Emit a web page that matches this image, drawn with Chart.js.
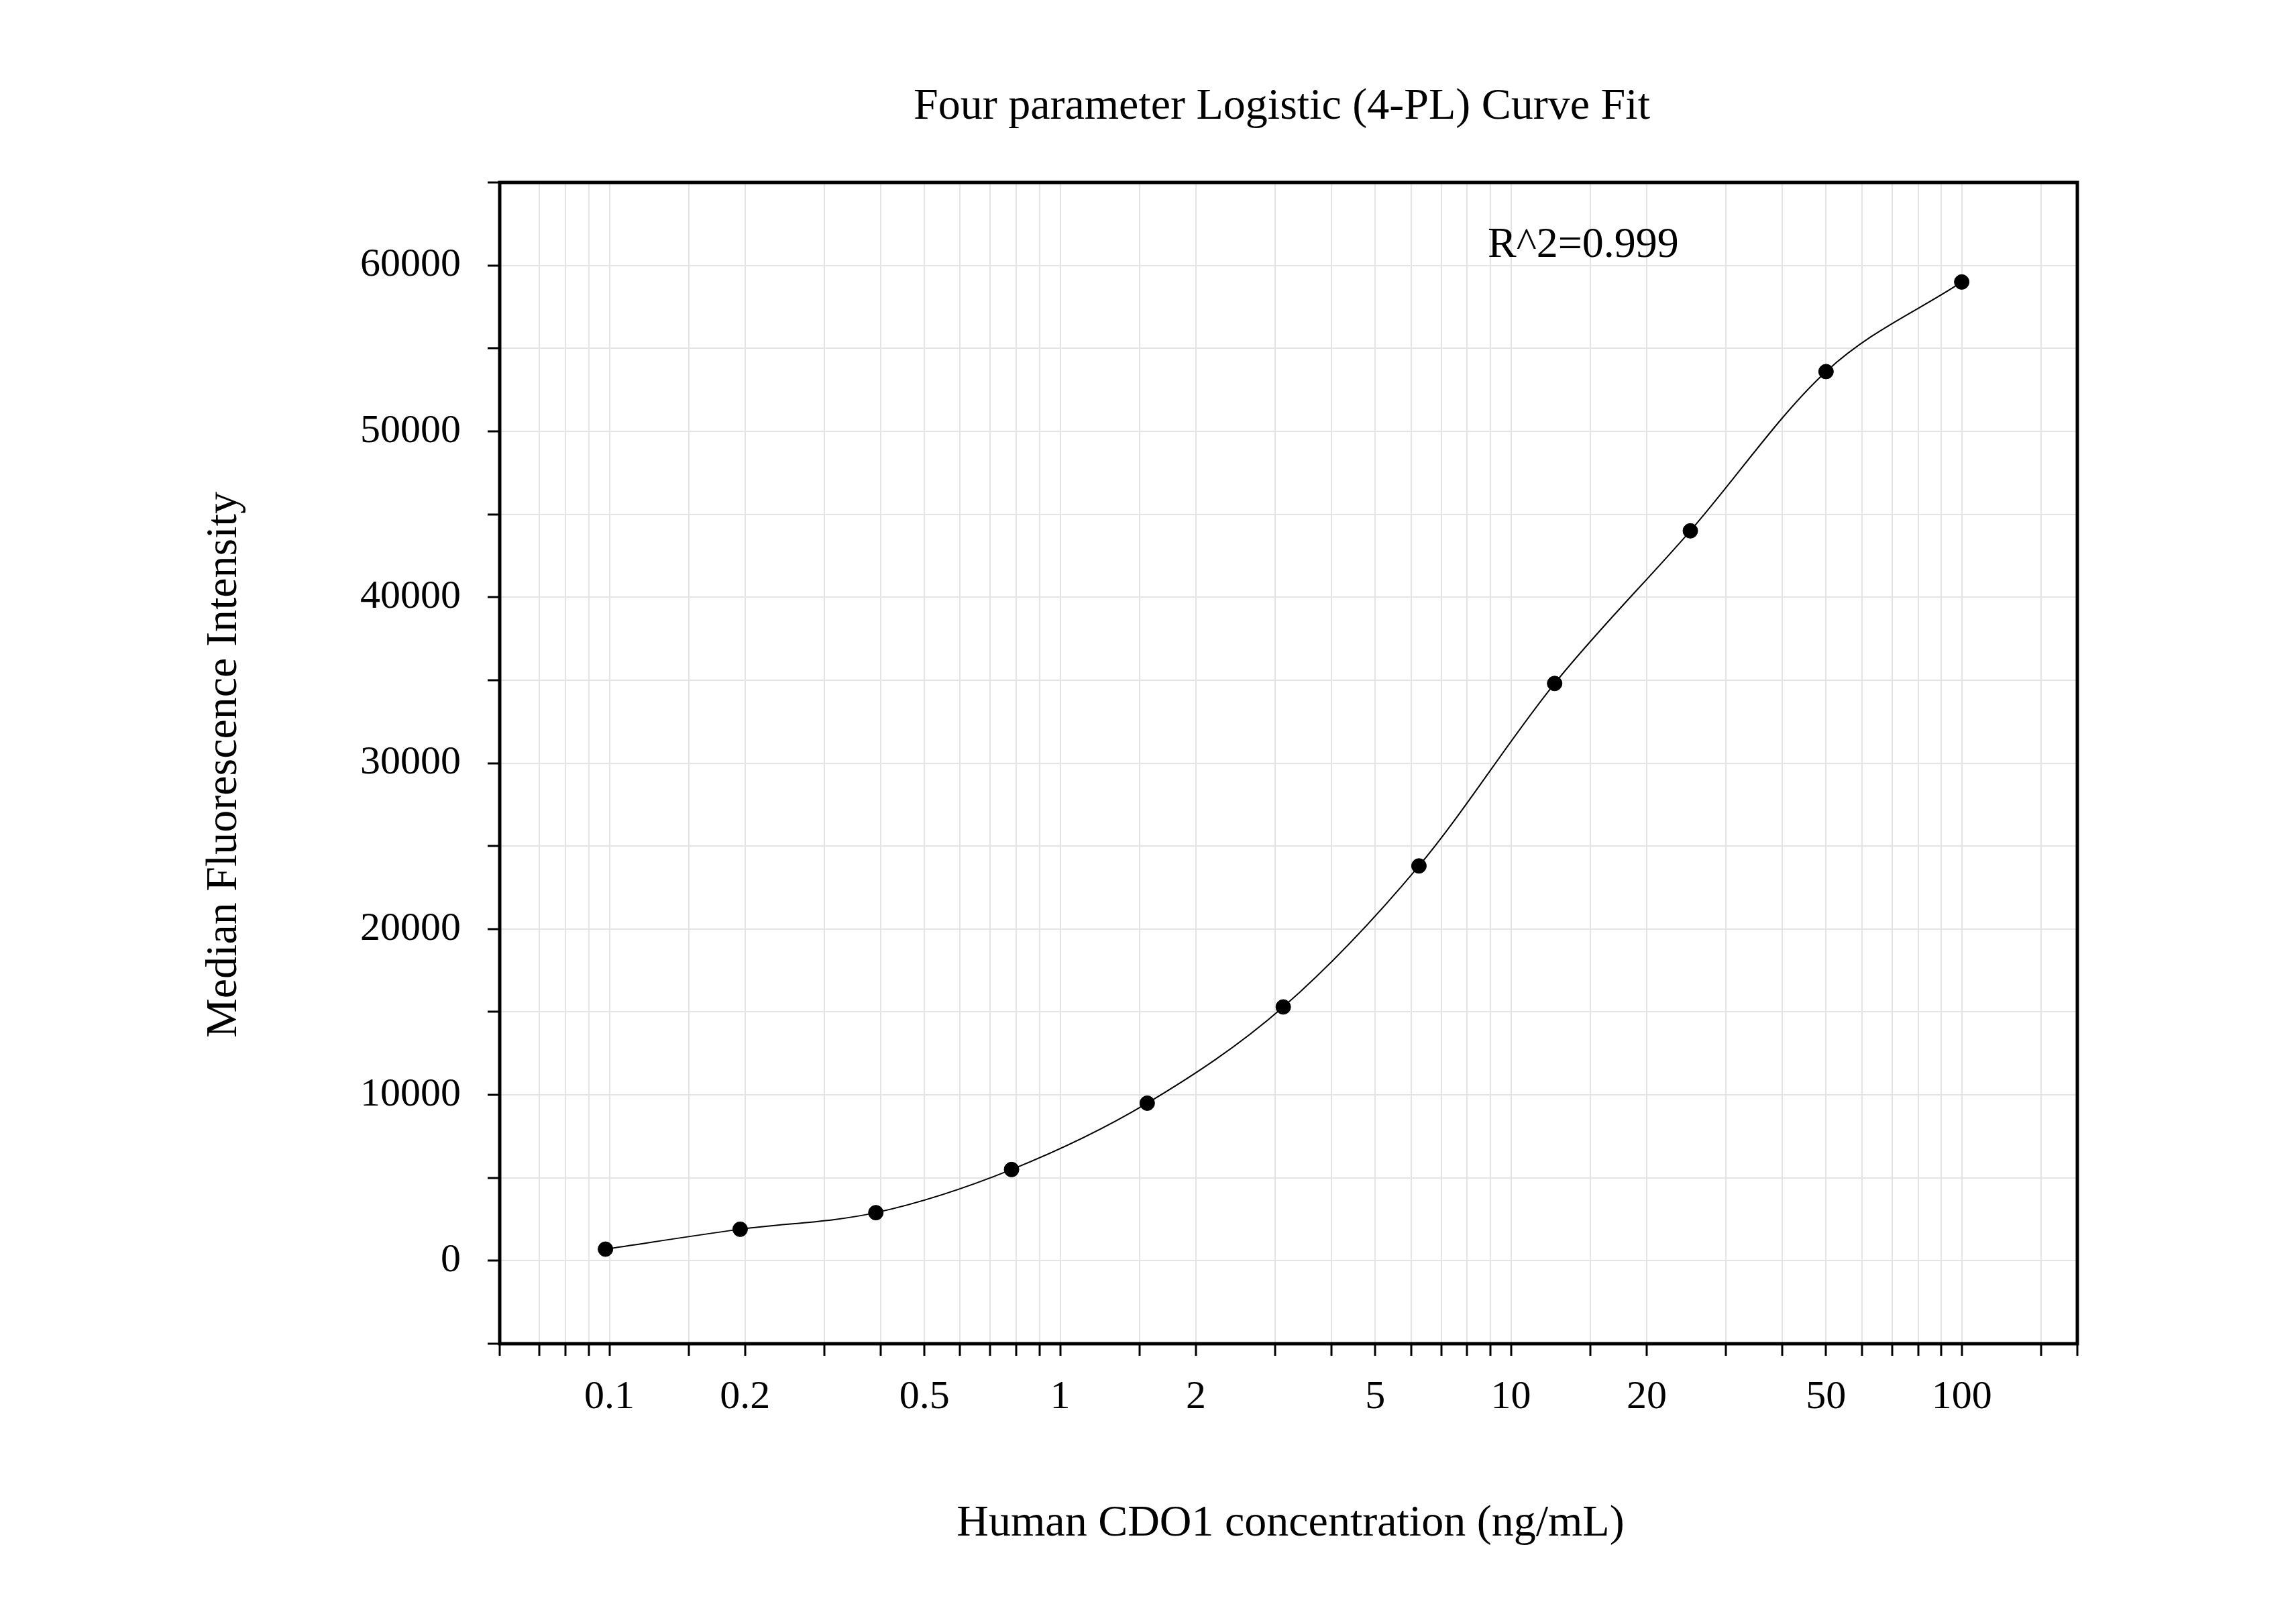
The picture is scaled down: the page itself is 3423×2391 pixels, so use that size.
<!DOCTYPE html>
<html><head><meta charset="utf-8">
<script src="https://cdn.jsdelivr.net/npm/chart.js@4"></script>
<style>body{margin:0;background:#fff}</style></head>
<body><canvas id="c" width="3423" height="2391"></canvas>
<script>
const concentrations=[0.098,0.195,0.39,0.78,1.56,3.125,6.25,12.5,25,50,100];
const mfi=[700,1900,2900,5500,9500,15300,23800,34800,44000,53600,59000];
const xLabels=[0.1,0.2,0.5,1,2,5,10,20,50,100];
const yLabels=[0,10000,20000,30000,40000,50000,60000];
const FONT='"Liberation Serif","Times New Roman",serif';
const pts=concentrations.map((x,i)=>({x,y:mfi[i]}));
const textPlugin={id:'txt',afterDraw(ch){
 const c=ch.ctx,a=ch.chartArea;c.save();
 c.strokeStyle='#000';c.lineWidth=5;c.strokeRect(a.left,a.top,a.right-a.left,a.bottom-a.top);
 c.fillStyle='#000';c.textAlign='center';c.textBaseline='middle';
 c.font='66px '+FONT;c.fillText('Four parameter Logistic (4-PL) Curve Fit',1911,160);
 c.font='66px '+FONT;c.fillText('Human CDO1 concentration (ng/mL)',1924,2272);
 c.save();c.translate(335,1140);c.rotate(-Math.PI/2);c.fillText('Median Fluorescence Intensity',0,0);c.restore();
 c.textAlign='left';c.font='64px '+FONT;c.fillText('R^2=0.999',2218,366);
 c.restore();}};
new Chart(document.getElementById('c'),{
 type:'scatter',
 data:{datasets:[
  {data:pts,showLine:true,cubicInterpolationMode:'monotone',borderColor:'#000',borderWidth:2,pointRadius:0,fill:false},
  {data:pts,pointRadius:11,pointBackgroundColor:'#000',pointBorderColor:'#000',showLine:false}
 ]},
 options:{responsive:false,devicePixelRatio:1,animation:false,
  layout:{padding:{left:0,right:326,top:272,bottom:0}},
  plugins:{legend:{display:false},tooltip:{enabled:false}},
  scales:{
   x:{type:'logarithmic',min:0.0571,max:180.5,
    afterFit(s){s.height=388;},
    grid:{color:'#e4e4e4',lineWidth:2,tickColor:'#000',tickLength:18,tickWidth:3},
    border:{display:false},
    ticks:{autoSkip:false,maxRotation:0,padding:26,color:'#000',font:{family:FONT,size:60},
     callback(v){return xLabels.some(l=>Math.abs(l-v)/l<1e-6)?String(v):'';}}},
   y:{min:-5000,max:65000,
    afterFit(s){s.width=745;},
    grid:{color:'#e4e4e4',lineWidth:2,tickColor:'#000',tickLength:18,tickWidth:3},
    border:{display:false},
    ticks:{stepSize:5000,padding:40,color:'#000',font:{family:FONT,size:60},
     callback(v){return yLabels.includes(v)?String(v):'';}}}
  }},
 plugins:[textPlugin]});
</script></body></html>
